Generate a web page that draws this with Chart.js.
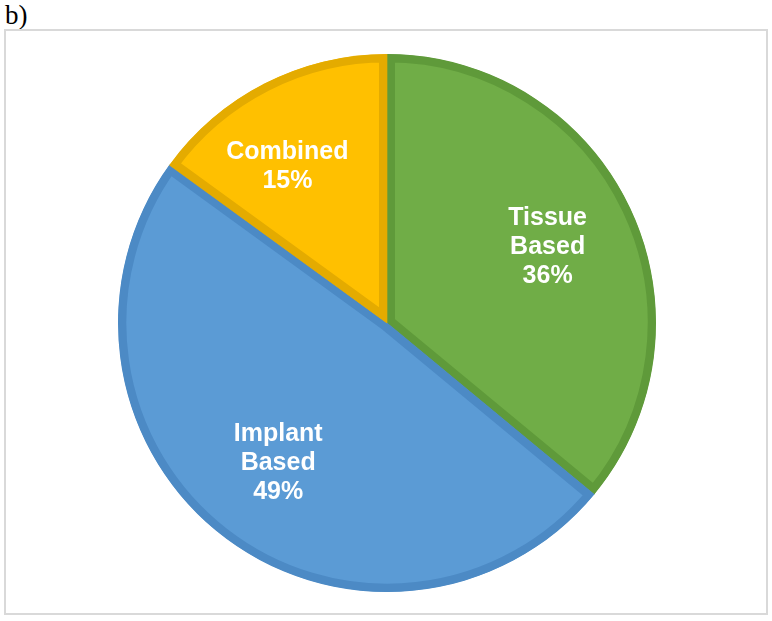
<!DOCTYPE html>
<html lang="en">
<head>
    <meta charset="UTF-8">
    <title>Reconstruction types</title>
    <script src="https://cdn.jsdelivr.net/npm/chart.js@4.4.1/dist/chart.umd.min.js"></script>
    <style>
        body { margin: 0; background: #ffffff; width: 772px; height: 621px; position: relative; overflow: hidden; }
        #tag { position: absolute; left: 5px; top: 2px; font: 27px/27px "Liberation Serif", "Times New Roman", serif; color: #000; }
        #frame { position: absolute; left: 4px; top: 29px; width: 760px; height: 582px; border: 2px solid #d9d9d9; }
        #chart { position: absolute; left: 0; top: 54px; width: 774px; height: 538px; }
    </style>
</head>
<body>
    <div id="tag">b)</div>
    <div id="frame"></div>
    <div id="chart"><canvas id="myChart"></canvas></div>
    <script>
        // chart data
        const categories = ['Tissue Based', 'Implant Based', 'Combined'];
        const labelLines = [['Tissue', 'Based'], ['Implant', 'Based'], ['Combined']];
        const shares = [36, 49, 15];

        const fills = ['#70ad47', '#5b9bd5', '#ffc000'];
        const borders = ['#5f9a3a', '#4c8ac5', '#e4ab00'];
        // small nudge of the label block (px), like Excel's fitting
        const labelNudge = [[0, 0], [0, 0], [-19, 2]];

        // writes the labels inside each slice
        const sliceLabels = {
            id: 'sliceLabels',
            afterDatasetsDraw(chart) {
                const ctx = chart.ctx;
                const arcs = chart.getDatasetMeta(0).data;
                ctx.save();
                ctx.fillStyle = '#ffffff';
                ctx.font = 'bold 25px "Liberation Sans", Arial, sans-serif';
                ctx.textAlign = 'center';
                ctx.textBaseline = 'middle';
                arcs.forEach((arc, i) => {
                    const p = arc.getProps(['x', 'y', 'startAngle', 'endAngle', 'outerRadius']);
                    const mid = (p.startAngle + p.endAngle) / 2;
                    const r = p.outerRadius * 0.66;
                    const cx = p.x + Math.cos(mid) * r + labelNudge[i][0];
                    const cy = p.y + Math.sin(mid) * r + labelNudge[i][1];
                    const lines = labelLines[i].concat([shares[i] + '%']);
                    const lh = 29;
                    lines.forEach((t, k) => {
                        ctx.fillText(t, cx, cy + (k - (lines.length - 1) / 2) * lh);
                    });
                });
                ctx.restore();
            }
        };

        const data = {
            labels: categories,
            datasets: [{
                data: shares,
                backgroundColor: fills,
                borderColor: borders,
                borderWidth: 8,
                borderAlign: 'inner'
            }]
        };

        const config = {
            type: 'pie',
            data: data,
            options: {
                responsive: true,
                maintainAspectRatio: false,
                animation: false,
                layout: { padding: 0 },
                plugins: {
                    legend: { display: false },
                    tooltip: { enabled: false }
                }
            },
            plugins: [sliceLabels]
        };

        new Chart(document.getElementById('myChart'), config);
    </script>
</body>
</html>
